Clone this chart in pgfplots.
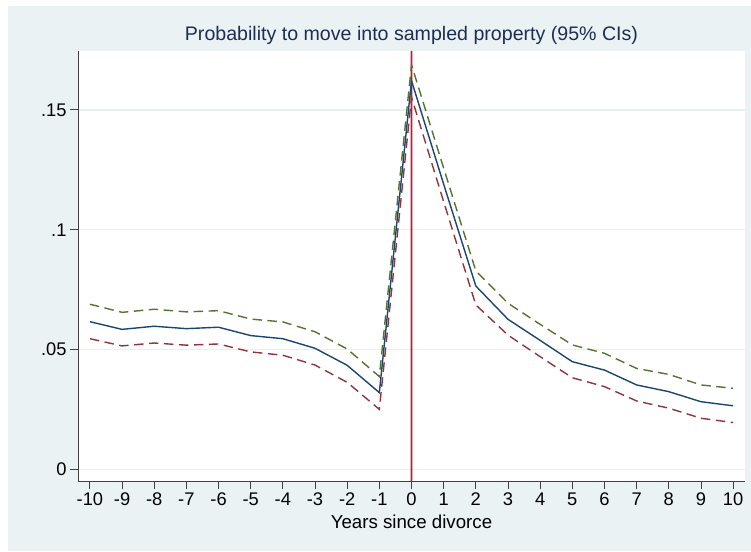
\documentclass[border=0pt]{standalone}
\usepackage{pgfplots}
\pgfplotsset{compat=1.18}
\usepackage{fontspec}
\setmainfont{Liberation Sans}
\definecolor{bg}{HTML}{EAF2F3}
\definecolor{gridc}{HTML}{E6EFF1}
\definecolor{pblue}{HTML}{1A476F}
\definecolor{pred}{HTML}{90353B}
\definecolor{pgreen}{HTML}{55752F}
\definecolor{zeroline}{RGB}{205,20,55}
\definecolor{titlec}{HTML}{1F2D55}
\definecolor{axc}{HTML}{404040}
\begin{document}
\begin{tikzpicture}
\fill[white] (0pt,0pt) rectangle (751pt,551pt);
\fill[bg] (8pt,0pt) rectangle (751pt,545pt);
\begin{axis}[
  at={(78pt,70pt)}, anchor=south west,
  scale only axis, width=667pt, height=430pt,
  xmin=-10.37, xmax=10.37, ymin=-0.0049, ymax=0.1746,
  axis x line*=bottom, axis y line*=left,
  axis line style={color=axc, line width=1pt},
  axis background/.style={fill=white},
  tick align=outside,
  major tick length=8pt,
  tick style={color=axc, line width=0.9pt},
  xtick={-10,-9,-8,-7,-6,-5,-4,-3,-2,-1,0,1,2,3,4,5,6,7,8,9,10},
  xticklabels={-10,-9,-8,-7,-6,-5,-4,-3,-2,-1,0,1,2,3,4,5,6,7,8,9,10},
  ytick={0,0.05,0.1,0.15},
  yticklabels={0,.05,.1,.15},
  ymajorgrids,
  grid style={color=gridc, line width=1.2pt},
  ticklabel style={font=\fontsize{18.3pt}{19pt}\selectfont},
  /pgf/number format/assume math mode=true,
  clip=false,
]
\addplot[color=zeroline, line width=1.6pt, no markers] coordinates {(-0.001,-0.0049) (0.001,0.1746)};
\addplot[color=pgreen, line width=1.4pt, no markers, dash pattern=on 9.5pt off 5.5pt] coordinates {
(-10,0.0689) (-9,0.0655) (-8,0.0668) (-7,0.0657) (-6,0.0662) (-5,0.0627) (-4,0.0615) (-3,0.0574) (-2,0.0502) (-1,0.0387)
(0,0.1688) (1,0.1257) (2,0.0828) (3,0.0693) (4,0.0605) (5,0.0519) (6,0.0484) (7,0.0421) (8,0.0396) (9,0.0352) (10,0.0338)};
\addplot[color=pred, line width=1.4pt, no markers, dash pattern=on 9.5pt off 5.5pt] coordinates {
(-10,0.0545) (-9,0.0515) (-8,0.0527) (-7,0.0518) (-6,0.0523) (-5,0.0490) (-4,0.0476) (-3,0.0435) (-2,0.0363) (-1,0.0250)
(0,0.1553) (1,0.1117) (2,0.0686) (3,0.0560) (4,0.0470) (5,0.0382) (6,0.0345) (7,0.0285) (8,0.0255) (9,0.0213) (10,0.0195)};
\addplot[color=pblue, line width=1.4pt, no markers] coordinates {
(-10,0.0616) (-9,0.0584) (-8,0.0597) (-7,0.0587) (-6,0.0593) (-5,0.0558) (-4,0.0545) (-3,0.0505) (-2,0.0434) (-1,0.0320)
(0,0.1622) (1,0.1190) (2,0.0765) (3,0.0626) (4,0.0538) (5,0.0449) (6,0.0414) (7,0.0352) (8,0.0324) (9,0.0282) (10,0.0265)};
\end{axis}
\node[anchor=base, text=titlec, font=\fontsize{19.6pt}{20pt}\selectfont] at (411.5pt,510pt) {Probability to move into sampled property (95\% CIs)};
\node[anchor=base, font=\fontsize{18.7pt}{19pt}\selectfont] at (411.5pt,23pt) {Years since divorce};
\pgfresetboundingbox
\useasboundingbox (0pt,0pt) rectangle (751pt,551pt);
\end{tikzpicture}
\end{document}
